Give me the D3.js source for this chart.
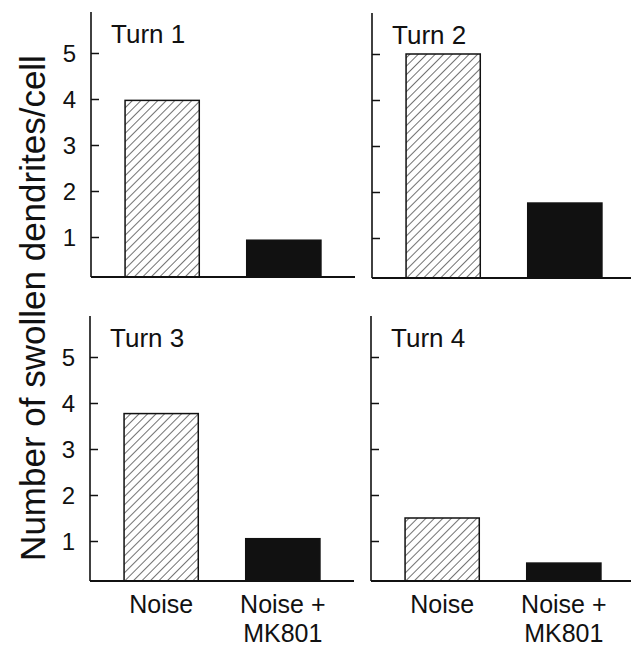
<!DOCTYPE html>
<html>
<head>
<meta charset="utf-8">
<script src="https://cdn.jsdelivr.net/npm/d3@7"></script>
<style>
  body { margin: 0; background: #fff; }
  text { font-family: "Liberation Sans", Arial, Helvetica, sans-serif; fill: #111; }
</style>
</head>
<body>
<div id="vis"></div>
<script>
// data
var turns = ['Turn 1', 'Turn 2', 'Turn 3', 'Turn 4'];
var groups = ['Noise', 'Noise + MK801'];
var noiseValues = [3.97, 5.0, 3.77, 1.5];
var mk801Values = [0.93, 1.76, 1.05, 0.52];
var yTicks = [1, 2, 3, 4, 5];

var width = 631;
var height = 650;

// panel layout (axis origin of each panel)
var panelW = 264;
var panels = [
  { x: 91, y: 277 },
  { x: 372, y: 278 },
  { x: 90, y: 581 },
  { x: 371, y: 581 }
];

var svg = d3.select('#vis')
    .append('svg')
    .attr('width', width)
    .attr('height', height);

// hatch pattern for the noise bars
svg.append('defs')
  .append('pattern')
    .attr('id', 'hatch')
    .attr('patternUnits', 'userSpaceOnUse')
    .attr('width', 6)
    .attr('height', 6)
    .attr('patternTransform', 'rotate(45)')
  .append('line')
    .attr('x1', 0).attr('y1', 0)
    .attr('x2', 0).attr('y2', 6)
    .attr('stroke', '#111')
    .attr('stroke-width', 1.2);

var x = d3.scaleBand()
    .domain(groups)
    .range([0, panelW])
    .paddingInner(0.39)
    .paddingOuter(0.28);

// value 0 sits a bit under the drawn baseline
var y = d3.scaleLinear()
    .domain([0, 5])
    .range([6, -224]);

var axisTop = -265;

turns.forEach(function (t, i) {
  var p = panels[i];
  var g = svg.append('g')
      .attr('transform', 'translate(' + p.x + ',' + p.y + ')');

  var vals = [noiseValues[i], mk801Values[i]];

  g.selectAll('.bar')
    .data(groups)
    .enter().append('rect')
      .attr('class', 'bar')
      .attr('x', function (d) { return x(d); })
      .attr('width', x.bandwidth())
      .attr('y', function (d, j) { return y(vals[j]); })
      .attr('height', function (d, j) { return -y(vals[j]); })
      .attr('fill', function (d, j) { return j === 0 ? 'url(#hatch)' : '#111'; })
      .attr('stroke', '#111')
      .attr('stroke-width', 1.5);

  // y axis with inward ticks
  var yAxis = d3.axisRight(y)
      .tickValues(yTicks)
      .tickSize(8)
      .tickFormat('');
  var ya = g.append('g').call(yAxis);
  ya.select('.domain').remove();
  ya.selectAll('line').attr('stroke', '#111').attr('stroke-width', 1.5);

  g.append('line')
      .attr('x1', 0).attr('x2', 0)
      .attr('y1', 0).attr('y2', axisTop)
      .attr('stroke', '#111')
      .attr('stroke-width', 1.6);

  g.append('line')
      .attr('x1', 0).attr('x2', panelW)
      .attr('y1', 0).attr('y2', 0)
      .attr('stroke', '#111')
      .attr('stroke-width', 1.8);

  // tick numbers only on the left panels
  if (i % 2 === 0) {
    g.selectAll('.ylab')
      .data(yTicks)
      .enter().append('text')
        .attr('class', 'ylab')
        .attr('x', -15)
        .attr('y', function (d) { return y(d) + 8.5; })
        .attr('text-anchor', 'end')
        .attr('font-size', 24)
        .text(function (d) { return d; });
  }

  g.append('text')
      .attr('x', 20)
      .attr('y', axisTop + 31)
      .attr('font-size', 26)
      .text(t);

  // category labels under the bottom panels
  if (i >= 2) {
    g.append('text')
        .attr('x', x(groups[0]) + x.bandwidth() / 2)
        .attr('y', 32)
        .attr('text-anchor', 'middle')
        .attr('font-size', 25)
        .text('Noise');
    var cx = x(groups[1]) + x.bandwidth() / 2;
    g.append('text')
        .attr('x', cx)
        .attr('y', 32)
        .attr('text-anchor', 'middle')
        .attr('font-size', 25)
        .text('Noise +');
    g.append('text')
        .attr('x', cx)
        .attr('y', 61)
        .attr('text-anchor', 'middle')
        .attr('font-size', 25)
        .text('MK801');
  }
});

svg.append('text')
    .attr('transform', 'translate(45,308) rotate(-90)')
    .attr('text-anchor', 'middle')
    .attr('font-size', 35)
    .text('Number of swollen dendrites/cell');
</script>
</body>
</html>
